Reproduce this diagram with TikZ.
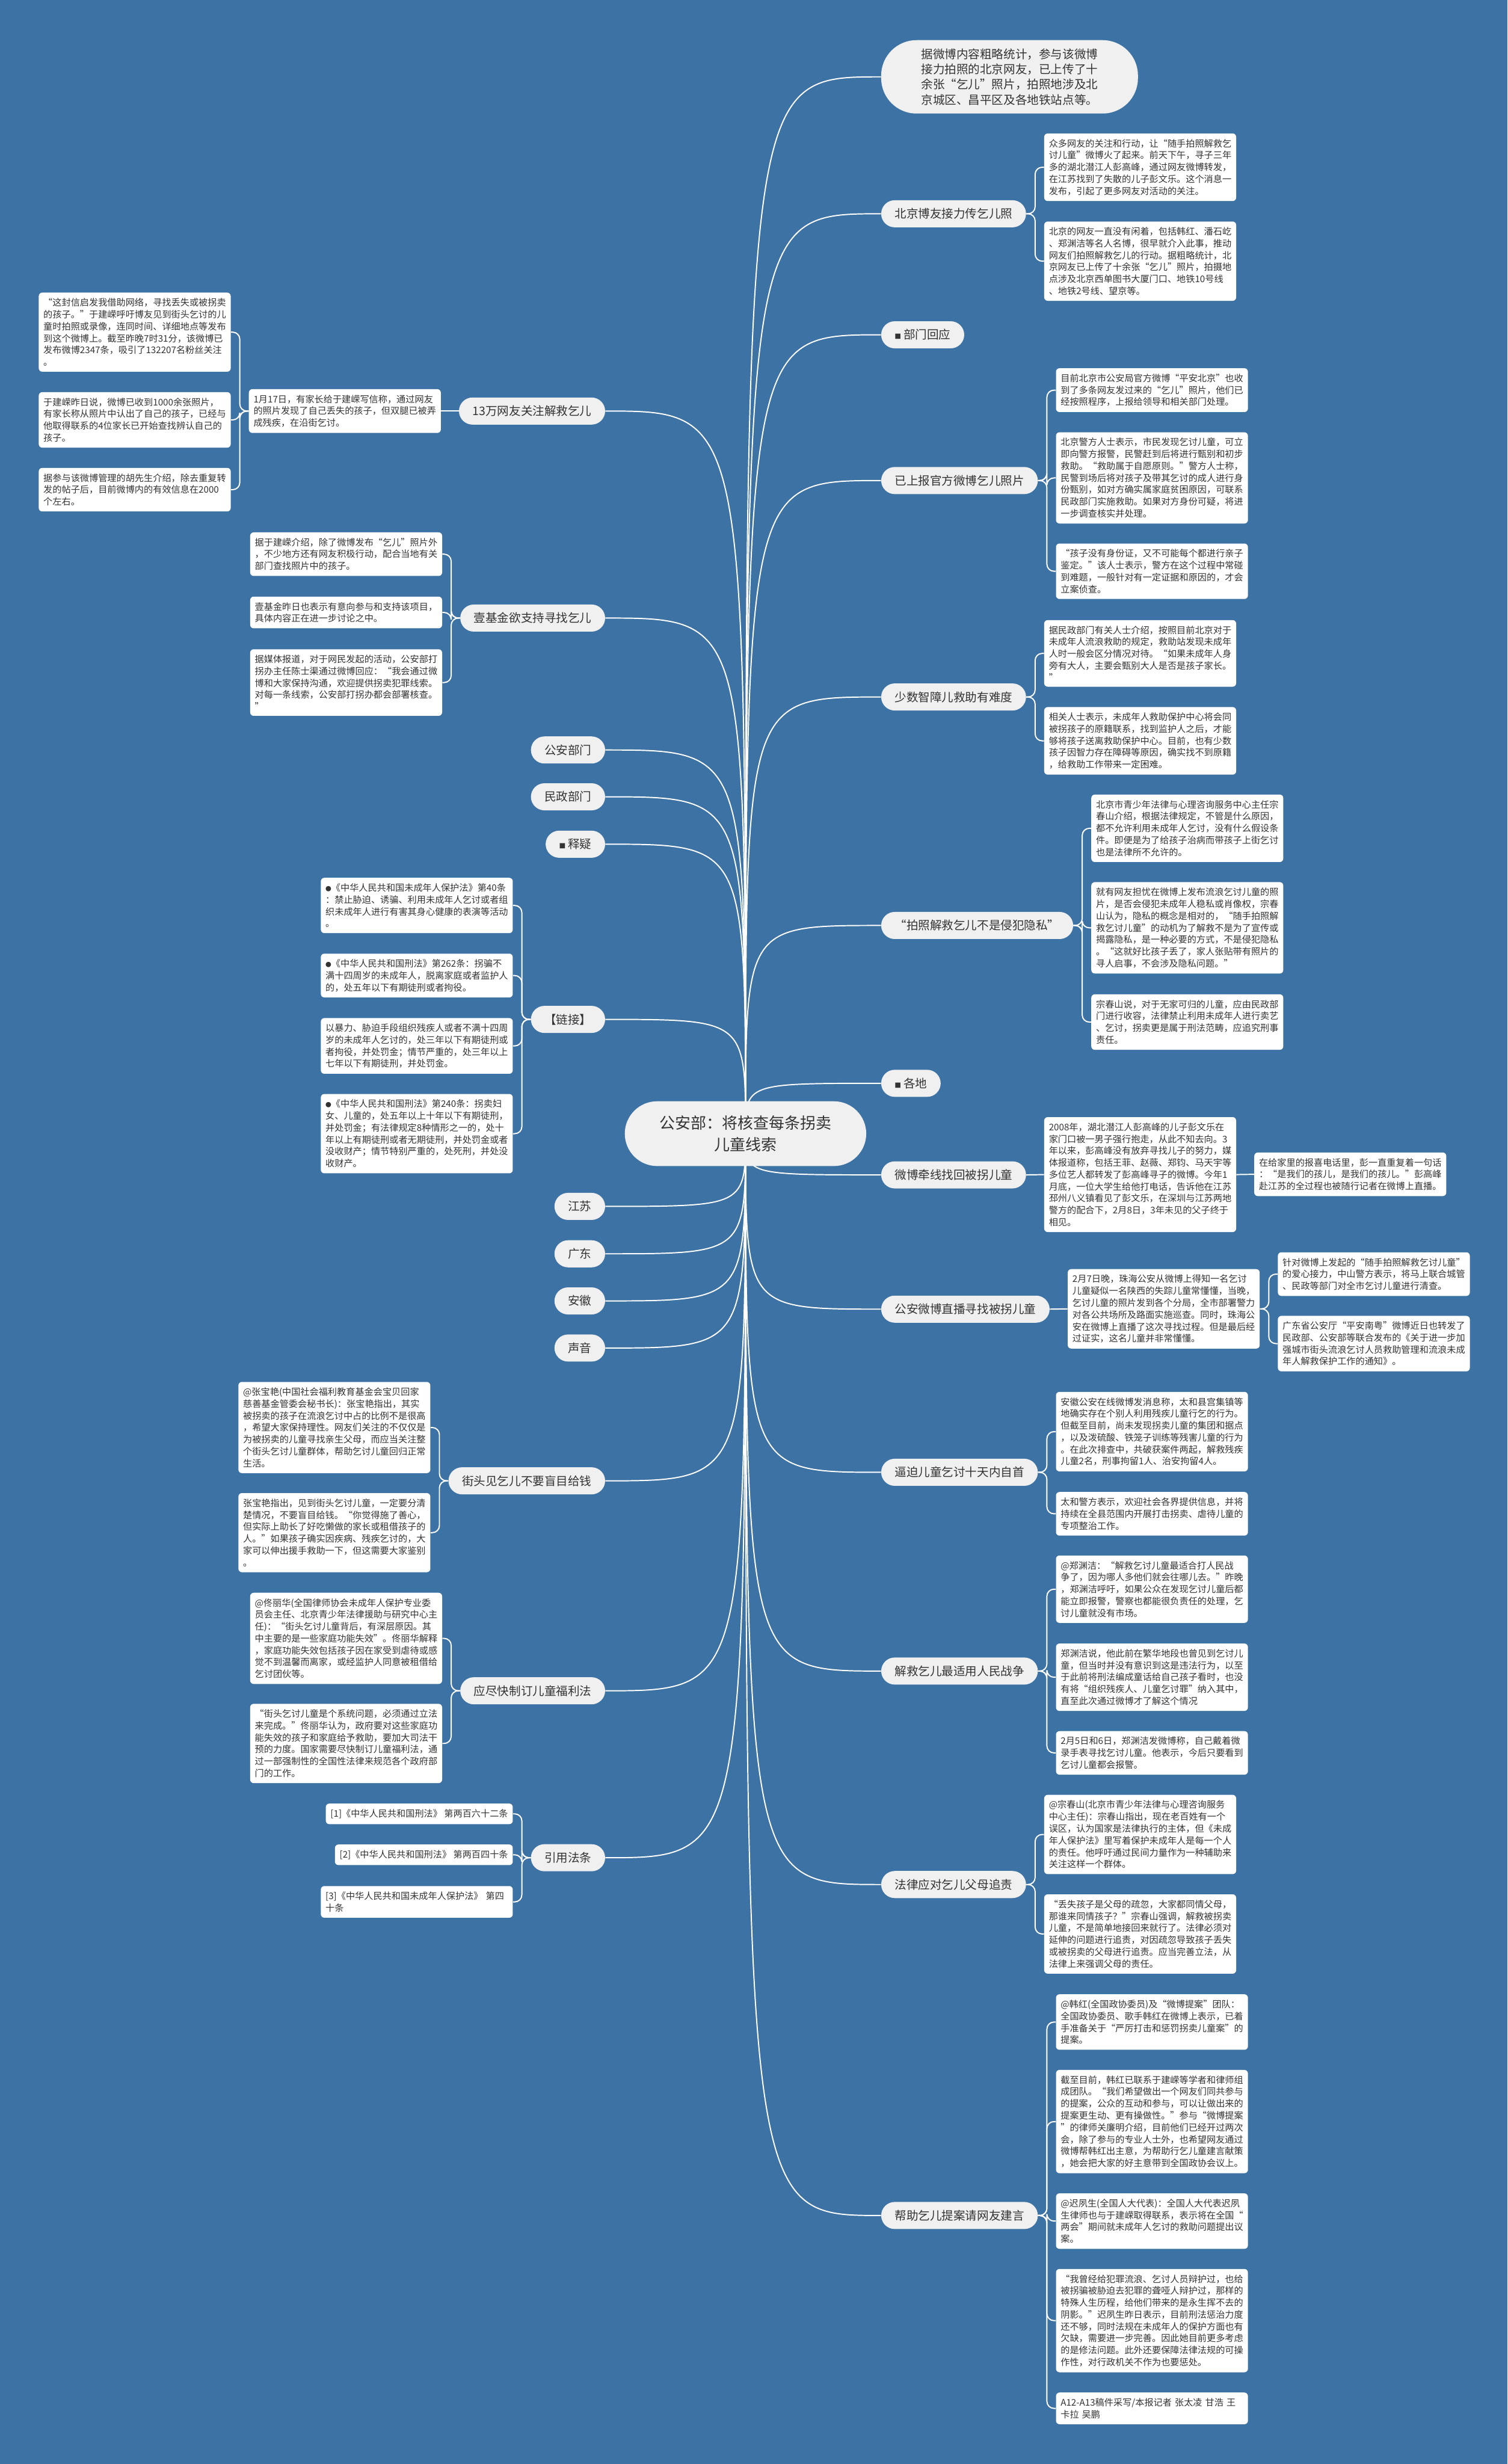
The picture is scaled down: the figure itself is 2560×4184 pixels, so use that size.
\documentclass[tikz,border=0pt]{standalone}
\usepackage{fontspec}
\setmainfont{Noto Sans CJK SC}
\usetikzlibrary{calc}
\pgfdeclarelayer{back}
\pgfsetlayers{back,main}
\definecolor{mapblue}{HTML}{3D72A4}
\definecolor{pillgray}{HTML}{F0F0F0}
\definecolor{inkgray}{HTML}{333333}

\begin{document}
\begin{tikzpicture}[x=0.5pt,y=-0.5pt,line cap=round,line join=round,
  topic/.style={fill=pillgray,text=inkgray,rounded corners=27.5pt,minimum width=205pt,minimum height=55pt,align=center,font=\fontsize{13.25pt}{18.5pt}\selectfont},
  branch/.style={fill=pillgray,text=inkgray,rounded corners=11.5pt,minimum height=23pt,inner xsep=11.5pt,font=\fontsize{10pt}{13pt}\selectfont},
  note/.style={branch,align=left,rounded corners=30pt,inner xsep=34pt,inner ysep=7pt},
  card/.style={fill=white,text=inkgray,rounded corners=3pt,inner xsep=4pt,inner ysep=4.8pt,align=left,font=\fontsize{7.75pt}{10.1pt}\selectfont},
  leaf/.style={card,text width=155pt},
  stem/.style={draw=white,line width=1pt},
  twig/.style={draw=white,line width=1pt,rounded corners=6pt}]
  \begin{pgfonlayer}{back}
    \fill[mapblue] (0,0) rectangle (2560,4184);
  \end{pgfonlayer}

  \node[topic] (root) at (1266,1925) {公安部：将核查每条拐卖\\儿童线索};

  \node[note,anchor=west] (r1) at (1496,130.5) {据微博内容粗略统计，参与该微博\\接力拍照的北京网友，已上传了十\\余张“乞儿”照片，拍照地涉及北\\京城区、昌平区及各地铁站点等。};
  \node[branch,anchor=west] (r2) at (1496,363) {北京博友接力传乞儿照};
  \node[branch,anchor=west] (r3) at (1496,568.5) {{\fontsize{5.5pt}{6pt}\selectfont ■}\hspace{2pt}部门回应};
  \node[branch,anchor=west] (r4) at (1496,816) {已上报官方微博乞儿照片};
  \node[branch,anchor=west] (r5) at (1496,1183.5) {少数智障儿救助有难度};
  \node[branch,anchor=west] (r6) at (1496,1571.5) {“拍照解救乞儿不是侵犯隐私”};
  \node[branch,anchor=west] (r7) at (1496,1839.5) {{\fontsize{5.5pt}{6pt}\selectfont ■}\hspace{2pt}各地};
  \node[branch,anchor=west] (r8) at (1496,1995) {微博牵线找回被拐儿童};
  \node[branch,anchor=west] (r9) at (1496,2223) {公安微博直播寻找被拐儿童};
  \node[branch,anchor=west] (r10) at (1496,2500) {逼迫儿童乞讨十天内自首};
  \node[branch,anchor=west] (r11) at (1496,2837.5) {解救乞儿最适用人民战争};
  \node[branch,anchor=west] (r12) at (1496,3200) {法律应对乞儿父母追责};
  \node[branch,anchor=west] (r13) at (1496,3762) {帮助乞儿提案请网友建言};

  \node[branch,anchor=east] (l1) at (1028,698) {13万网友关注解救乞儿};
  \node[branch,anchor=east] (l2) at (1028,1049.5) {壹基金欲支持寻找乞儿};
  \node[branch,anchor=east] (l3) at (1028,1273.5) {公安部门};
  \node[branch,anchor=east] (l4) at (1028,1353) {民政部门};
  \node[branch,anchor=east] (l5) at (1028,1433.5) {{\fontsize{5.5pt}{6pt}\selectfont ■}\hspace{2pt}释疑};
  \node[branch,anchor=east] (l6) at (1028,1731) {【链接】};
  \node[branch,anchor=east] (l7) at (1028,2048.5) {江苏};
  \node[branch,anchor=east] (l8) at (1028,2129) {广东};
  \node[branch,anchor=east] (l9) at (1028,2209) {安徽};
  \node[branch,anchor=east] (l10) at (1028,2289) {声音};
  \node[branch,anchor=east] (l11) at (1028,2514.5) {街头见乞儿不要盲目给钱};
  \node[branch,anchor=east] (l12) at (1028,2871) {应尽快制订儿童福利法};
  \node[branch,anchor=east] (l13) at (1028,3154.5) {引用法条};

  \node[leaf,anchor=west] (r2a) at ($(r2.east |- 0,284)+(30,0)$) {众多网友的关注和行动，让“随手拍照解救乞\\讨儿童”微博火了起来。前天下午，寻子三年\\多的湖北潜江人彭高峰，通过网友微博转发，\\在江苏找到了失散的儿子彭文乐。这个消息一\\发布，引起了更多网友对活动的关注。};
  \node[leaf,anchor=west] (r2b) at ($(r2.east |- 0,443.5)+(30,0)$) {北京的网友一直没有闲着，包括韩红、潘石屹\\、郑渊洁等名人名博，很早就介入此事，推动\\网友们拍照解救乞儿的行动。据粗略统计，北\\京网友已上传了十余张“乞儿”照片，拍摄地\\点涉及北京西单图书大厦门口、地铁10号线\\、地铁2号线、望京等。};
  \node[leaf,anchor=west] (r4a) at ($(r4.east |- 0,662.5)+(30,0)$) {目前北京市公安局官方微博“平安北京”也收\\到了多条网友发过来的“乞儿”照片，他们已\\经按照程序，上报给领导和相关部门处理。};
  \node[leaf,anchor=west] (r4b) at ($(r4.east |- 0,811.5)+(30,0)$) {北京警方人士表示，市民发现乞讨儿童，可立\\即向警方报警，民警赶到后将进行甄别和初步\\救助。“救助属于自愿原则。”警方人士称，\\民警到场后将对孩子及带其乞讨的成人进行身\\份甄别，如对方确实属家庭贫困原因，可联系\\民政部门实施救助。如果对方身份可疑，将进\\一步调查核实并处理。};
  \node[leaf,anchor=west] (r4c) at ($(r4.east |- 0,970)+(30,0)$) {“孩子没有身份证，又不可能每个都进行亲子\\鉴定。”该人士表示，警方在这个过程中常碰\\到难题，一般针对有一定证据和原因的，才会\\立案侦查。};
  \node[leaf,anchor=west] (r5a) at ($(r5.east |- 0,1109.5)+(30,0)$) {据民政部门有关人士介绍，按照目前北京对于\\未成年人流浪救助的规定，救助站发现未成年\\人时一般会区分情况对待。“如果未成年人身\\旁有大人，主要会甄别大人是否是孩子家长。\\”};
  \node[leaf,anchor=west] (r5b) at ($(r5.east |- 0,1258)+(30,0)$) {相关人士表示，未成年人救助保护中心将会同\\被拐孩子的原籍联系，找到监护人之后，才能\\够将孩子送离救助保护中心。目前，也有少数\\孩子因智力存在障碍等原因，确实找不到原籍\\，给救助工作带来一定困难。};
  \node[leaf,anchor=west] (r6a) at ($(r6.east |- 0,1406.5)+(30,0)$) {北京市青少年法律与心理咨询服务中心主任宗\\春山介绍，根据法律规定，不管是什么原因，\\都不允许利用未成年人乞讨，没有什么假设条\\件。即便是为了给孩子治病而带孩子上街乞讨\\也是法律所不允许的。};
  \node[leaf,anchor=west] (r6b) at ($(r6.east |- 0,1575.5)+(30,0)$) {就有网友担忧在微博上发布流浪乞讨儿童的照\\片，是否会侵犯未成年人稳私或肖像权，宗春\\山认为，隐私的概念是相对的，“随手拍照解\\救乞讨儿童”的动机为了解救不是为了宣传或\\揭露隐私，是一种必要的方式，不是侵犯隐私\\。“这就好比孩子丢了，家人张贴带有照片的\\寻人启事，不会涉及隐私问题。”};
  \node[leaf,anchor=west] (r6c) at ($(r6.east |- 0,1735.5)+(30,0)$) {宗春山说，对于无家可归的儿童，应由民政部\\门进行收容，法律禁止利用未成年人进行卖艺\\、乞讨，拐卖更是属于刑法范畴，应追究刑事\\责任。};
  \node[leaf,anchor=west] (r8a) at ($(r8.east |- 0,1994.5)+(30,0)$) {2008年，湖北潜江人彭高峰的儿子彭文乐在\\家门口被一男子强行抱走，从此不知去向。3\\年以来，彭高峰没有放弃寻找儿子的努力，媒\\体报道称，包括王菲、赵薇、郑钧、马天宇等\\多位艺人都转发了彭高峰寻子的微博。今年1\\月底，一位大学生给他打电话，告诉他在江苏\\邳州八义镇看见了彭文乐，在深圳与江苏两地\\警方的配合下，2月8日，3年未见的父子终于\\相见。};
  \node[leaf,anchor=west] (r8a1) at ($(r8a.east |- 0,1994)+(30,0)$) {在给家里的报喜电话里，彭一直重复着一句话\\：“是我们的孩儿，是我们的孩儿。”彭高峰\\赴江苏的全过程也被随行记者在微博上直播。};
  \node[leaf,anchor=west] (r9a) at ($(r9.east |- 0,2222.5)+(30,0)$) {2月7日晚，珠海公安从微博上得知一名乞讨\\儿童疑似一名陕西的失踪儿童常懂懂，当晚，\\乞讨儿童的照片发到各个分局，全市部署警力\\对各公共场所及路面实施巡查。同时，珠海公\\安在微博上直播了这次寻找过程。但是最后经\\过证实，这名儿童并非常懂懂。};
  \node[leaf,anchor=west] (r9a1) at ($(r9a.east |- 0,2163.5)+(30,0)$) {针对微博上发起的“随手拍照解救乞讨儿童”\\的爱心接力，中山警方表示，将马上联合城管\\、民政等部门对全市乞讨儿童进行清查。};
  \node[leaf,anchor=west] (r9a2) at ($(r9a.east |- 0,2281.5)+(30,0)$) {广东省公安厅“平安南粤”微博近日也转发了\\民政部、公安部等联合发布的《关于进一步加\\强城市街头流浪乞讨人员救助管理和流浪未成\\年人解救保护工作的通知》。};
  \node[leaf,anchor=west] (r10a) at ($(r10.east |- 0,2431)+(30,0)$) {安徽公安在线微博发消息称，太和县宫集镇等\\地确实存在个别人利用残疾儿童行乞的行为。\\但截至目前，尚未发现拐卖儿童的集团和据点\\，以及泼硫酸、铁笼子训练等残害儿童的行为\\。在此次排查中，共破获案件两起，解救残疾\\儿童2名，刑事拘留1人、治安拘留4人。};
  \node[leaf,anchor=west] (r10b) at ($(r10.east |- 0,2570.5)+(30,0)$) {太和警方表示，欢迎社会各界提供信息，并将\\持续在全县范围内开展打击拐卖、虐待儿童的\\专项整治工作。};
  \node[leaf,anchor=west] (r11a) at ($(r11.east |- 0,2698.5)+(30,0)$) {@郑渊洁：“解救乞讨儿童最适合打人民战\\争了，因为哪人多他们就会往哪儿去。”昨晚\\，郑渊洁呼吁，如果公众在发现乞讨儿童后都\\能立即报警，警察也都能很负责任的处理，乞\\讨儿童就没有市场。};
  \node[leaf,anchor=west] (r11b) at ($(r11.east |- 0,2848)+(30,0)$) {郑渊洁说，他此前在繁华地段也曾见到乞讨儿\\童，但当时并没有意识到这是违法行为，以至\\于此前将刑法编成童话给自己孩子看时，也没\\有将“组织残疾人、儿童乞讨罪”纳入其中，\\直至此次通过微博才了解这个情况};
  \node[leaf,anchor=west] (r11c) at ($(r11.east |- 0,2976.5)+(30,0)$) {2月5日和6日，郑渊洁发微博称，自己戴着微\\录手表寻找乞讨儿童。他表示，今后只要看到\\乞讨儿童都会报警。};
  \node[leaf,anchor=west] (r12a) at ($(r12.east |- 0,3115)+(30,0)$) {@宗春山(北京市青少年法律与心理咨询服务\\中心主任)：宗春山指出，现在老百姓有一个\\误区，认为国家是法律执行的主体，但《未成\\年人保护法》里写着保护未成年人是每一个人\\的责任。他呼吁通过民间力量作为一种辅助来\\关注这样一个群体。};
  \node[leaf,anchor=west] (r12b) at ($(r12.east |- 0,3284)+(30,0)$) {“丢失孩子是父母的疏忽，大家都同情父母，\\那谁来同情孩子？”宗春山强调，解救被拐卖\\儿童，不是简单地接回来就行了。法律必须对\\延伸的问题进行追责，对因疏忽导致孩子丢失\\或被拐卖的父母进行追责。应当完善立法，从\\法律上来强调父母的责任。};
  \node[leaf,anchor=west] (r13a) at ($(r13.east |- 0,3433.5)+(30,0)$) {@韩红(全国政协委员)及“微博提案”团队：\\全国政协委员、歌手韩红在微博上表示，已着\\手准备关于“严厉打击和惩罚拐卖儿童案”的\\提案。};
  \node[leaf,anchor=west] (r13b) at ($(r13.east |- 0,3602.5)+(30,0)$) {截至目前，韩红已联系于建嵘等学者和律师组\\成团队。“我们希望做出一个网友们同共参与\\的提案，公众的互动和参与，可以让做出来的\\提案更生动、更有操做性。”参与“微博提案\\”的律师关廉明介绍，目前他们已经开过两次\\会，除了参与的专业人士外，也希望网友通过\\微博帮韩红出主意，为帮助行乞儿童建言献策\\，她会把大家的好主意带到全国政协会议上。};
  \node[leaf,anchor=west] (r13c) at ($(r13.east |- 0,3771.5)+(30,0)$) {@迟夙生(全国人大代表)：全国人大代表迟夙\\生律师也与于建嵘取得联系，表示将在全国“\\两会”期间就未成年人乞讨的救助问题提出议\\案。};
  \node[leaf,anchor=west] (r13d) at ($(r13.east |- 0,3940.5)+(30,0)$) {“我曾经给犯罪流浪、乞讨人员辩护过，也给\\被拐骗被胁迫去犯罪的聋哑人辩护过，那样的\\特殊人生历程，给他们带来的是永生挥不去的\\阴影。”迟夙生昨日表示，目前刑法惩治力度\\还不够，同时法规在未成年人的保护方面也有\\欠缺，需要进一步完善。因此她目前更多考虑\\的是修法问题。此外还要保障法律法规的可操\\作性，对行政机关不作为也要惩处。};
  \node[leaf,anchor=west] (r13e) at ($(r13.east |- 0,4089.5)+(30,0)$) {A12-A13稿件采写/本报记者~张太凌~甘浩~王\\卡拉~吴鹏};

  \node[leaf,anchor=east] (l1a) at ($(l1.west |- 0,698)+(-30,0)$) {1月17日，有家长给于建嵘写信称，通过网友\\的照片发现了自己丢失的孩子，但双腿已被弄\\成残疾，在沿街乞讨。};
  \node[leaf,anchor=east] (l1a1) at ($(l1a.west |- 0,564)+(-30,0)$) {“这封信启发我借助网络，寻找丢失或被拐卖\\的孩子。”于建嵘呼吁博友见到街头乞讨的儿\\童时拍照或录像，连同时间、详细地点等发布\\到这个微博上。截至昨晚7时31分，该微博已\\发布微博2347条，吸引了132207名粉丝关注\\。};
  \node[leaf,anchor=east] (l1a2) at ($(l1a.west |- 0,713)+(-30,0)$) {于建嵘昨日说，微博已收到1000余张照片，\\有家长称从照片中认出了自己的孩子，已经与\\他取得联系的4位家长已开始查找辨认自己的\\孩子。};
  \node[leaf,anchor=east] (l1a3) at ($(l1a.west |- 0,831.5)+(-30,0)$) {据参与该微博管理的胡先生介绍，除去重复转\\发的帖子后，目前微博内的有效信息在2000\\个左右。};
  \node[leaf,anchor=east] (l2a) at ($(l2.west |- 0,941)+(-30,0)$) {据于建嵘介绍，除了微博发布“乞儿”照片外\\，不少地方还有网友积极行动，配合当地有关\\部门查找照片中的孩子。};
  \node[leaf,anchor=east] (l2b) at ($(l2.west |- 0,1040)+(-30,0)$) {壹基金昨日也表示有意向参与和支持该项目，\\具体内容正在进一步讨论之中。};
  \node[leaf,anchor=east] (l2c) at ($(l2.west |- 0,1159)+(-30,0)$) {据媒体报道，对于网民发起的活动，公安部打\\拐办主任陈士渠通过微博回应：“我会通过微\\博和大家保持沟通，欢迎提供拐卖犯罪线索。\\对每一条线索，公安部打拐办都会部署核查。\\”};
  \node[leaf,anchor=east] (l6a) at ($(l6.west |- 0,1537.5)+(-30,0)$) {{\fontsize{5pt}{6pt}\selectfont ●}《中华人民共和国未成年人保护法》第40条\\：禁止胁迫、诱骗、利用未成年人乞讨或者组\\织未成年人进行有害其身心健康的表演等活动\\。};
  \node[leaf,anchor=east] (l6b) at ($(l6.west |- 0,1656.5)+(-30,0)$) {{\fontsize{5pt}{6pt}\selectfont ●}《中华人民共和国刑法》第262条：拐骗不\\满十四周岁的未成年人，脱离家庭或者监护人\\的，处五年以下有期徒刑或者拘役。};
  \node[leaf,anchor=east] (l6c) at ($(l6.west |- 0,1776)+(-30,0)$) {以暴力、胁迫手段组织残疾人或者不满十四周\\岁的未成年人乞讨的，处三年以下有期徒刑或\\者拘役，并处罚金；情节严重的，处三年以上\\七年以下有期徒刑，并处罚金。};
  \node[leaf,anchor=east] (l6d) at ($(l6.west |- 0,1925)+(-30,0)$) {{\fontsize{5pt}{6pt}\selectfont ●}《中华人民共和国刑法》第240条：拐卖妇\\女、儿童的，处五年以上十年以下有期徒刑，\\并处罚金；有法律规定8种情形之一的，处十\\年以上有期徒刑或者无期徒刑，并处罚金或者\\没收财产；情节特别严重的，处死刑，并处没\\收财产。};
  \node[leaf,anchor=east] (l11a) at ($(l11.west |- 0,2424)+(-30,0)$) {@张宝艳(中国社会福利教育基金会宝贝回家\\慈善基金管委会秘书长)：张宝艳指出，其实\\被拐卖的孩子在流浪乞讨中占的比例不是很高\\，希望大家保持理性。网友们关注的不仅仅是\\为被拐卖的儿童寻找亲生父母，而应当关注整\\个街头乞讨儿童群体，帮助乞讨儿童回归正常\\生活。};
  \node[leaf,anchor=east] (l11b) at ($(l11.west |- 0,2602.5)+(-30,0)$) {张宝艳指出，见到街头乞讨儿童，一定要分清\\楚情况，不要盲目给钱。“你觉得施了善心，\\但实际上助长了好吃懒做的家长或租借孩子的\\人。”如果孩子确实因疾病、残疾乞讨的，大\\家可以伸出援手救助一下，但这需要大家鉴别\\。};
  \node[leaf,anchor=east] (l12a) at ($(l12.west |- 0,2782)+(-30,0)$) {@佟丽华(全国律师协会未成年人保护专业委\\员会主任、北京青少年法律援助与研究中心主\\任)：“街头乞讨儿童背后，有深层原因。其\\中主要的是一些家庭功能失效”。佟丽华解释\\，家庭功能失效包括孩子因在家受到虐待或感\\觉不到温馨而离家，或经监护人同意被租借给\\乞讨团伙等。};
  \node[leaf,anchor=east] (l12b) at ($(l12.west |- 0,2960.5)+(-30,0)$) {“街头乞讨儿童是个系统问题，必须通过立法\\来完成。”佟丽华认为，政府要对这些家庭功\\能失效的孩子和家庭给予救助，要加大司法干\\预的力度。国家需要尽快制订儿童福利法，通\\过一部强制性的全国性法律来规范各个政府部\\门的工作。};
  \node[card,anchor=east] (l13a) at ($(l13.west |- 0,3080)+(-30,0)$) {[1]《中华人民共和国刑法》 第两百六十二条};
  \node[card,anchor=east] (l13b) at ($(l13.west |- 0,3149.5)+(-30,0)$) {[2]《中华人民共和国刑法》 第两百四十条};
  \node[leaf,anchor=east] (l13c) at ($(l13.west |- 0,3229.5)+(-30,0)$) {[3]《中华人民共和国未成年人保护法》 第四\\十条};

  \begin{pgfonlayer}{back}
    \draw[stem] (root.center) .. controls (root.center |- r1.west) .. (r1.west);
    \draw[stem] (root.center) .. controls (root.center |- r2.west) .. (r2.west);
    \draw[stem] (root.center) .. controls (root.center |- r3.west) .. (r3.west);
    \draw[stem] (root.center) .. controls (root.center |- r4.west) .. (r4.west);
    \draw[stem] (root.center) .. controls (root.center |- r5.west) .. (r5.west);
    \draw[stem] (root.center) .. controls (root.center |- r6.west) .. (r6.west);
    \draw[stem] (root.center) .. controls (root.center |- r7.west) .. (r7.west);
    \draw[stem] (root.center) .. controls (root.center |- r8.west) .. (r8.west);
    \draw[stem] (root.center) .. controls (root.center |- r9.west) .. (r9.west);
    \draw[stem] (root.center) .. controls (root.center |- r10.west) .. (r10.west);
    \draw[stem] (root.center) .. controls (root.center |- r11.west) .. (r11.west);
    \draw[stem] (root.center) .. controls (root.center |- r12.west) .. (r12.west);
    \draw[stem] (root.center) .. controls (root.center |- r13.west) .. (r13.west);
    \draw[stem] (root.center) .. controls (root.center |- l1.east) .. (l1.east);
    \draw[stem] (root.center) .. controls (root.center |- l2.east) .. (l2.east);
    \draw[stem] (root.center) .. controls (root.center |- l3.east) .. (l3.east);
    \draw[stem] (root.center) .. controls (root.center |- l4.east) .. (l4.east);
    \draw[stem] (root.center) .. controls (root.center |- l5.east) .. (l5.east);
    \draw[stem] (root.center) .. controls (root.center |- l6.east) .. (l6.east);
    \draw[stem] (root.center) .. controls (root.center |- l7.east) .. (l7.east);
    \draw[stem] (root.center) .. controls (root.center |- l8.east) .. (l8.east);
    \draw[stem] (root.center) .. controls (root.center |- l9.east) .. (l9.east);
    \draw[stem] (root.center) .. controls (root.center |- l10.east) .. (l10.east);
    \draw[stem] (root.center) .. controls (root.center |- l11.east) .. (l11.east);
    \draw[stem] (root.center) .. controls (root.center |- l12.east) .. (l12.east);
    \draw[stem] (root.center) .. controls (root.center |- l13.east) .. (l13.east);

    \draw[twig] (r2.east) -- ++(15,0) |- (r2a.west);
    \draw[twig] (r2.east) -- ++(15,0) |- (r2b.west);
    \draw[twig] (r4.east) -- ++(15,0) |- (r4a.west);
    \draw[twig] (r4.east) -- ++(15,0) |- (r4b.west);
    \draw[twig] (r4.east) -- ++(15,0) |- (r4c.west);
    \draw[twig] (r5.east) -- ++(15,0) |- (r5a.west);
    \draw[twig] (r5.east) -- ++(15,0) |- (r5b.west);
    \draw[twig] (r6.east) -- ++(15,0) |- (r6a.west);
    \draw[twig] (r6.east) -- ++(15,0) |- (r6b.west);
    \draw[twig] (r6.east) -- ++(15,0) |- (r6c.west);
    \draw[twig] (r8.east) -- (r8a.west);
    \draw[twig] (r8a.east) -- (r8a1.west);
    \draw[twig] (r9.east) -- (r9a.west);
    \draw[twig] (r9a.east) -- ++(15,0) |- (r9a1.west);
    \draw[twig] (r9a.east) -- ++(15,0) |- (r9a2.west);
    \draw[twig] (r10.east) -- ++(15,0) |- (r10a.west);
    \draw[twig] (r10.east) -- ++(15,0) |- (r10b.west);
    \draw[twig] (r11.east) -- ++(15,0) |- (r11a.west);
    \draw[twig] (r11.east) -- ++(15,0) |- (r11b.west);
    \draw[twig] (r11.east) -- ++(15,0) |- (r11c.west);
    \draw[twig] (r12.east) -- ++(15,0) |- (r12a.west);
    \draw[twig] (r12.east) -- ++(15,0) |- (r12b.west);
    \draw[twig] (r13.east) -- ++(15,0) |- (r13a.west);
    \draw[twig] (r13.east) -- ++(15,0) |- (r13b.west);
    \draw[twig] (r13.east) -- ++(15,0) |- (r13c.west);
    \draw[twig] (r13.east) -- ++(15,0) |- (r13d.west);
    \draw[twig] (r13.east) -- ++(15,0) |- (r13e.west);

    \draw[twig] (l1.west) -- (l1a.east);
    \draw[twig] (l1a.west) -- ++(-15,0) |- (l1a1.east);
    \draw[twig] (l1a.west) -- ++(-15,0) |- (l1a2.east);
    \draw[twig] (l1a.west) -- ++(-15,0) |- (l1a3.east);
    \draw[twig] (l2.west) -- ++(-15,0) |- (l2a.east);
    \draw[twig] (l2.west) -- ++(-15,0) |- (l2b.east);
    \draw[twig] (l2.west) -- ++(-15,0) |- (l2c.east);
    \draw[twig] (l6.west) -- ++(-15,0) |- (l6a.east);
    \draw[twig] (l6.west) -- ++(-15,0) |- (l6b.east);
    \draw[twig] (l6.west) -- ++(-15,0) |- (l6c.east);
    \draw[twig] (l6.west) -- ++(-15,0) |- (l6d.east);
    \draw[twig] (l11.west) -- ++(-15,0) |- (l11a.east);
    \draw[twig] (l11.west) -- ++(-15,0) |- (l11b.east);
    \draw[twig] (l12.west) -- ++(-15,0) |- (l12a.east);
    \draw[twig] (l12.west) -- ++(-15,0) |- (l12b.east);
    \draw[twig] (l13.west) -- ++(-15,0) |- (l13a.east);
    \draw[twig] (l13.west) -- ++(-15,0) |- (l13b.east);
    \draw[twig] (l13.west) -- ++(-15,0) |- (l13c.east);
  \end{pgfonlayer}
\end{tikzpicture}
\end{document}
